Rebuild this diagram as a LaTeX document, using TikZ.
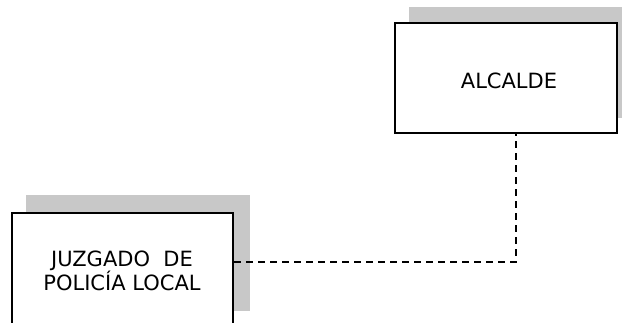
\documentclass[tikz,border=0pt]{standalone}
\usepackage{fontspec}
\setmainfont{DejaVu Sans}
\begin{document}
\begin{tikzpicture}[x=1pt,y=1pt,
  box/.style={draw=black,line width=2pt,fill=white,inner sep=0pt},
  label/.style={font=\fontsize{21}{21.5}\selectfont,align=center,inner sep=0pt},
  shadowbox/.style={fill=shadowgray,draw=none,inner sep=0pt},
  link/.style={draw=black,line width=1.8pt,dash pattern=on 7pt off 5pt}]
\definecolor{shadowgray}{RGB}{200,200,200}
\useasboundingbox (0,0) rectangle (622,323);
\clip (0,0) rectangle (622,323);
% shadows
\node[shadowbox,minimum width=222pt,minimum height=111pt] (alcsh) at (520,260.5) {};
\node[shadowbox,minimum width=224pt,minimum height=116pt] (juzsh) at (138,70) {};
% boxes
\node[box,minimum width=222pt,minimum height=110pt] (alc) at (506,245) {};
\node[box,minimum width=221pt,minimum height=116pt] (juz) at (122.5,52) {};
% texts
\node[label] (alctxt) at (509,242) {ALCALDE};
\node[label] (juztxt) at (122,52) {JUZGADO\ \ DE\\POLICÍA LOCAL};
% connector
\draw[link] ([yshift=9pt]juz.east) -| ([xshift=10pt]alc.south);
\end{tikzpicture}
\end{document}
